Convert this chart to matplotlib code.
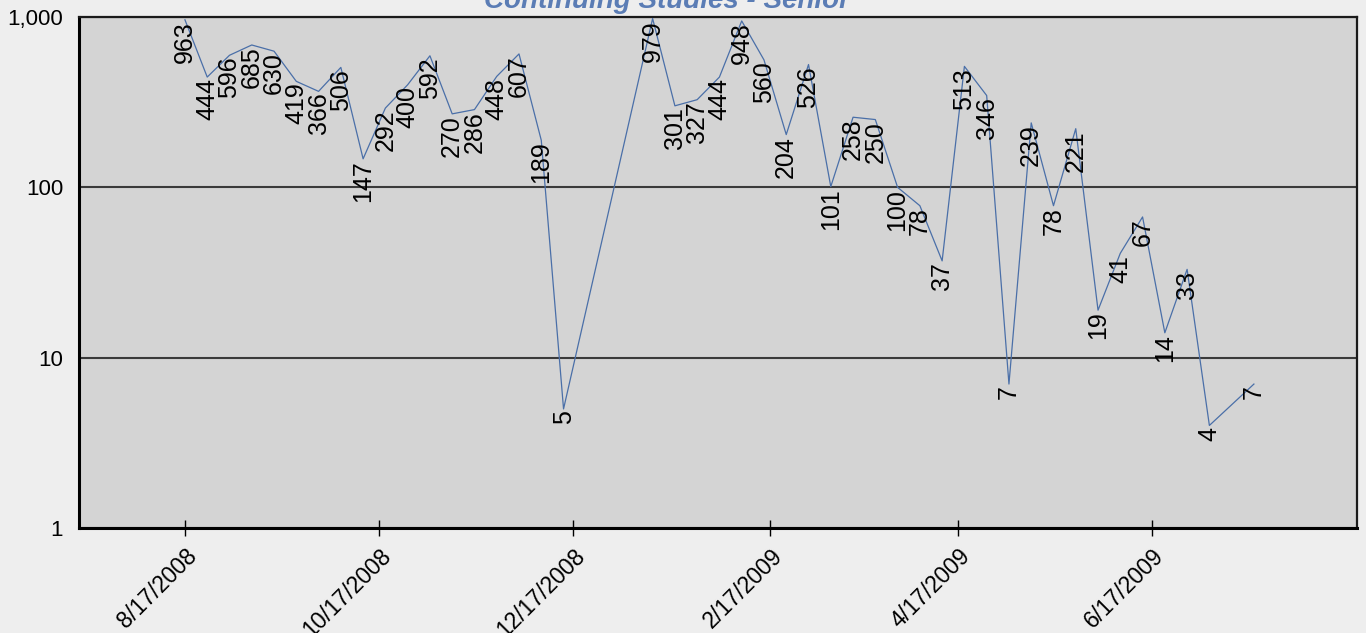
import matplotlib
matplotlib.use("Agg")
import matplotlib.pyplot as plt
import matplotlib.transforms as mtrans
from matplotlib.ticker import FixedLocator, FuncFormatter
import pandas as pd

# ---- data ----
dates = [
    "2008-08-17", "2008-08-24", "2008-08-31", "2008-09-07", "2008-09-14", "2008-09-21",
    "2008-09-28", "2008-10-05", "2008-10-12", "2008-10-19", "2008-10-26", "2008-11-02",
    "2008-11-09", "2008-11-16", "2008-11-23", "2008-11-30", "2008-12-07", "2008-12-14",
    "2009-01-11", "2009-01-18", "2009-01-25", "2009-02-01", "2009-02-08", "2009-02-15",
    "2009-02-22", "2009-03-01", "2009-03-08", "2009-03-15", "2009-03-22", "2009-03-29",
    "2009-04-05", "2009-04-12", "2009-04-19", "2009-04-26", "2009-05-03", "2009-05-10",
    "2009-05-17", "2009-05-24", "2009-05-31", "2009-06-07", "2009-06-14", "2009-06-21",
    "2009-06-28", "2009-07-05", "2009-07-19",
]
values = [
    963, 444, 596, 685, 630, 419, 366, 506, 147, 292, 400, 592, 270, 286, 448, 607, 189, 5,
    979, 301, 327, 444, 948, 560, 204, 526, 101, 258, 250, 100, 78, 37, 513, 346, 7, 239,
    78, 221, 19, 41, 67, 14, 33, 4, 7,
]
tick_dates = ["2008-08-17", "2008-10-17", "2008-12-17", "2009-02-17", "2009-04-17", "2009-06-17"]
tick_labels = ["8/17/2008", "10/17/2008", "12/17/2008", "2/17/2009", "4/17/2009", "6/17/2009"]
y_ticks = [1, 10, 100, 1000]
title = "Continuing Studies - Senior"

# ---- figure ----
W, H, DPI = 1366, 633, 100
plt.rcParams['font.family'] = ['Liberation Sans', 'DejaVu Sans']
fig = plt.figure(figsize=(W / DPI, H / DPI), dpi=DPI, facecolor="#eeeeee")
ax = fig.add_axes([79 / W, 1 - 528 / H, (1357 - 79) / W, (528 - 17) / H])
ax.set_facecolor("#d4d4d4")

x = pd.to_datetime(dates)
ax.plot(x, values, color="#4a6fa8", lw=0.9, zorder=3)

for xi, v in zip(x, values):
    ax.annotate(f"{v:,}", (xi, v), xytext=(0, -1), textcoords="offset points",
                rotation=90, ha="center", va="top", fontsize=18, color="black", zorder=4)

ax.set_yscale("log")
ax.set_ylim(1, 1000)
x0 = pd.Timestamp("2008-08-17") - pd.Timedelta(days=33.3)
x1 = pd.Timestamp("2009-06-17") + pd.Timedelta(days=64.4)
ax.set_xlim(x0, x1)

ax.yaxis.set_major_locator(FixedLocator(y_ticks))
ax.yaxis.set_minor_locator(FixedLocator([]))
ax.yaxis.set_major_formatter(FuncFormatter(lambda v, p: f"{int(round(v)):,}"))
ax.tick_params(axis="y", length=0, pad=11.5, labelsize=16)
ax.grid(axis="y", which="major", color="#3a3a3a", lw=1.5, zorder=1)
ax.set_axisbelow(True)

tdates = pd.to_datetime(tick_dates)
ax.set_xticks(tdates)
ax.set_xticklabels(tick_labels)
ax.tick_params(axis="x", direction="inout", length=11, width=1, pad=15.5, labelsize=16.5)
offset = mtrans.ScaledTranslation(13 / DPI, 0, fig.dpi_scale_trans)
for lbl in ax.get_xticklabels():
    lbl.set_rotation(45)
    lbl.set_ha("right")
    lbl.set_va("baseline")
    lbl.set_rotation_mode("anchor")
    lbl.set_transform(lbl.get_transform() + offset)

for side in ["left", "bottom"]:
    ax.spines[side].set_color("black")
    ax.spines[side].set_linewidth(2.2)
for side in ["top", "right"]:
    ax.spines[side].set_color("#1a1a1a")
    ax.spines[side].set_linewidth(1.6)

fig.text(667 / W, 1 - 8 / H, title, ha="center", va="baseline", fontsize=20,
         fontweight="bold", fontstyle="italic", color="#5b7db5")

fig.savefig("out.png", dpi=DPI, facecolor=fig.get_facecolor())
